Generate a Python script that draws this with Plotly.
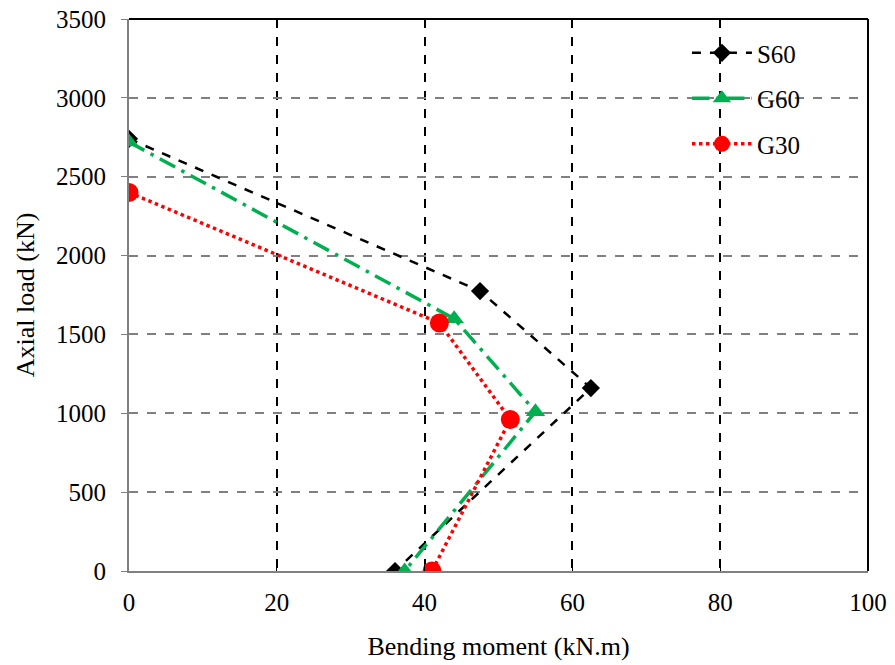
import plotly.graph_objects as go

s60_x = [0, 47.5, 62.5, 36.0]
s60_y = [2740, 1775, 1160, 0]
g60_x = [0, 44.0, 55.0, 37.3]
g60_y = [2720, 1600, 1010, 0]
g30_x = [0, 42.0, 51.6, 41.0]
g30_y = [2400, 1573, 960, 0]

x_ticks = [0, 20, 40, 60, 80, 100]
y_ticks = [0, 500, 1000, 1500, 2000, 2500, 3000, 3500]

FONT = "Liberation Serif, Times New Roman, serif"

fig = go.Figure()
fig.add_trace(go.Scatter(x=s60_x, y=s60_y, name="S60", mode="lines+markers", legendgroup="a",
                         line=dict(color="black", width=2.5, dash="dash"),
                         marker=dict(symbol="diamond", size=14, color="black")))
fig.add_trace(go.Scatter(x=g60_x, y=g60_y, name="G60", mode="lines+markers", legendgroup="b",
                         line=dict(color="#00B050", width=3.5, dash="longdashdot"),
                         marker=dict(symbol="triangle-up", size=17, color="#00B050")))
fig.add_trace(go.Scatter(x=g30_x, y=g30_y, name="G30", mode="lines+markers", legendgroup="c",
                         line=dict(color="#FF0000", width=3.5, dash="dot"),
                         marker=dict(symbol="circle", size=19, color="#FF0000")))

fig.update_layout(
    width=895, height=665,
    margin=dict(l=129, r=27, t=19, b=94, autoexpand=False),
    paper_bgcolor="white", plot_bgcolor="white",
    font=dict(family=FONT, size=25, color="black"),
    showlegend=True,
    legend=dict(x=0.755, y=0.98, xanchor="left", yanchor="top",
                bgcolor="rgba(0,0,0,0)", font=dict(family=FONT, size=25),
                itemwidth=60, tracegroupgap=10),
    xaxis=dict(range=[0, 100], tickvals=x_ticks, showgrid=True,
               gridcolor="black", griddash="dash", gridwidth=1.5,
               showline=True, linecolor="#808080", linewidth=2,
               ticks="inside", ticklen=6, tickcolor="black",
               zeroline=False, ticklabelstandoff=8, automargin=False,
               title=dict(text="Bending moment (kN.m)", font=dict(family=FONT, size=26), standoff=22),
               tickfont=dict(family=FONT, size=25)),
    yaxis=dict(range=[0, 3500], tickvals=y_ticks, showgrid=True,
               gridcolor="#808080", griddash="dash", gridwidth=1.5,
               showline=True, linecolor="#808080", linewidth=2,
               ticks="outside", ticklen=6, tickcolor="#808080",
               zeroline=False, ticklabelstandoff=10, automargin=False,
               title=dict(text="Axial load (kN)", font=dict(family=FONT, size=26), standoff=14),
               tickfont=dict(family=FONT, size=25)),
    shapes=[
        dict(type="line", xref="x domain", yref="y domain", x0=0, x1=1, y0=1, y1=1,
             line=dict(color="black", width=2)),
        dict(type="line", xref="x domain", yref="y domain", x0=1, x1=1, y0=0, y1=1,
             line=dict(color="black", width=2)),
    ],
)

fig.write_html("out.html")
